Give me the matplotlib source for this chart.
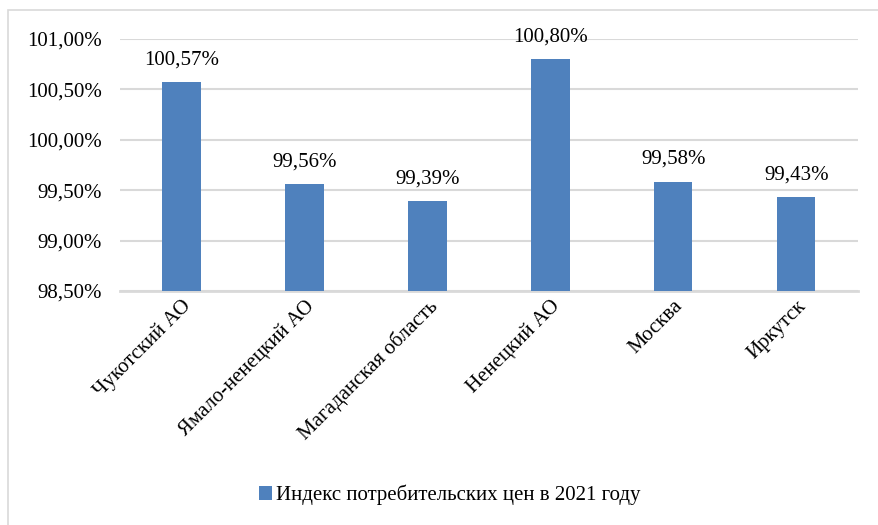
import matplotlib.pyplot as plt
from matplotlib.patches import Rectangle
from matplotlib.ticker import FuncFormatter

regions = ['Чукотский АО', 'Ямало-ненецкий АО', 'Магаданская область',
           'Ненецкий АО', 'Москва', 'Иркутск']
cpi = [100.57, 99.56, 99.39, 100.80, 99.58, 99.43]
series_name = 'Индекс потребительских цен в 2021 году'

plt.rcParams['font.family'] = ['Liberation Serif', 'DejaVu Serif']

fig = plt.figure(figsize=(8.79, 5.25), dpi=100)
ax = fig.add_axes([0.1365, 0.4457, 0.8395, 0.48])

x = range(len(regions))
bars = ax.bar(x, cpi, width=0.31, color='#4F81BD', zorder=3, label=series_name)

for xi, v in zip(x, cpi):
    ax.text(xi, v + 0.13, f'{v:.2f}%'.replace('.', ','), ha='center', va='bottom',
            fontsize=15)

ax.set_ylim(98.5, 101.0)
ax.set_xlim(-0.5, len(regions) - 0.5)
ax.set_yticks([98.5, 99.0, 99.5, 100.0, 100.5, 101.0])
ax.yaxis.set_major_formatter(FuncFormatter(lambda v, p: f'{v:.2f}%'.replace('.', ',')))
ax.tick_params(axis='y', length=0, labelsize=15, pad=13)
ax.tick_params(axis='x', length=0, labelsize=15, pad=4)
ax.set_xticks(list(x))
ax.set_xticklabels(regions, rotation=45, ha='right', rotation_mode='anchor')

ax.grid(axis='y', color='#D9D9D9', linewidth=1.5, zorder=0)
for s in ['top', 'right', 'left']:
    ax.spines[s].set_visible(False)
ax.spines['bottom'].set_color('#D9D9D9')
ax.spines['bottom'].set_linewidth(2)

leg = fig.legend(handles=[bars], labels=[series_name], loc='center',
                 bbox_to_anchor=(0.512, 0.057), frameon=False, fontsize=15,
                 handlelength=0.6, handleheight=0.6, handletextpad=0.2)

fig.patches.append(Rectangle((8 / 879, -0.05), 1.1, 1 - 10 / 525 + 0.05,
                             transform=fig.transFigure, fill=False,
                             edgecolor='#D9D9D9', linewidth=1.2))

fig.savefig('out.png', dpi=100)
